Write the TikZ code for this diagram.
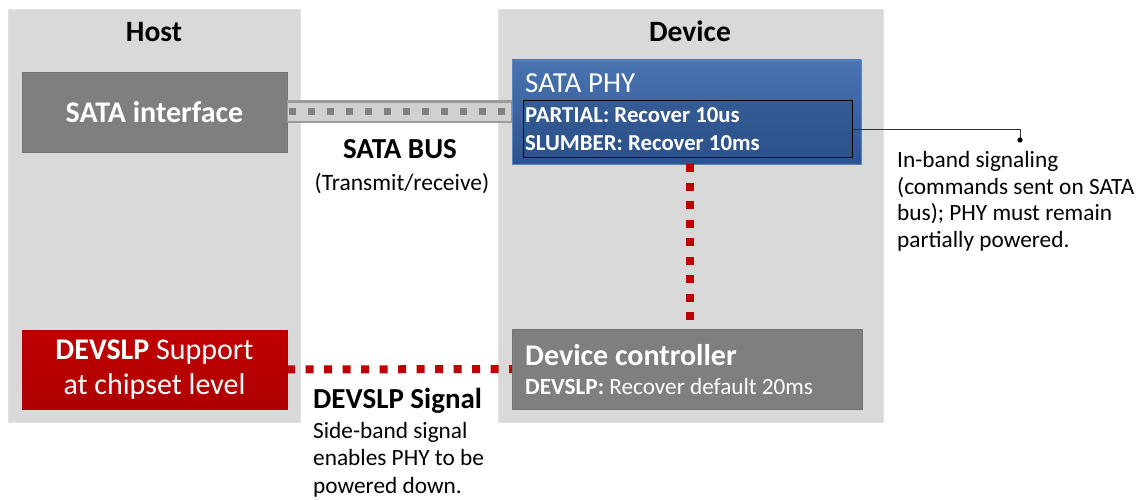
\documentclass[tikz,border=0pt]{standalone}
\usepackage{fontspec}
\setmainfont{Carlito}
\definecolor{panelgray}{HTML}{D9D9D9}
\definecolor{boxgray}{HTML}{7F7F7F}
\definecolor{busfill}{HTML}{D0D0D0}
\definecolor{busedge}{HTML}{9A9A9A}
\definecolor{sqgray}{HTML}{808080}
\definecolor{devred}{HTML}{C00000}
\definecolor{devredb}{HTML}{AE0000}
\definecolor{phytop}{HTML}{4A74B0}
\definecolor{phybot}{HTML}{2C5390}
\definecolor{phyedge}{HTML}{5A84C0}
\definecolor{innerblue}{HTML}{2B4E84}
\definecolor{dotred}{HTML}{C00000}
\tikzset{
  panel/.style={fill=panelgray, draw=panelgray!80!white, inner sep=0pt},
  graybox/.style={fill=boxgray, draw=boxgray!90!black, inner sep=0pt, text=white},
  redbox/.style={top color=devred, bottom color=devredb, draw=devredb, inner sep=0pt, text=white},
  phybox/.style={top color=phytop, bottom color=phybot, draw=phyedge, line width=0.8pt, inner sep=0pt},
  innerbox/.style={fill=innerblue, fill opacity=0.45, draw=black, draw opacity=1, line width=1pt, inner sep=0pt},
  wtext/.style={text=white, inner sep=0pt},
  btext/.style={text=black, inner sep=0pt},
  reddots/.style={draw=dotred, line width=8pt, dash pattern=on 8pt off 10.5pt},
}
\begin{document}
\begin{tikzpicture}[x=1pt,y=-1pt]
\useasboundingbox (0,0) rectangle (1146,500);
\fill[white] (0,0) rectangle (1146,500);
% panels
\node[panel, minimum width=292pt, minimum height=413pt] (host) at (154,215.5) {};
\node[panel, minimum width=385pt, minimum height=413pt] (device) at (690.5,215.5) {};
\node[btext, anchor=base, font=\fontsize{29.5}{32}\selectfont\bfseries] (hosttitle) at (154,42) {Host};
\node[btext, anchor=base, font=\fontsize{29.5}{32}\selectfont\bfseries] (devtitle) at (690,42) {Device};
% boxes
\node[graybox, minimum width=265pt, minimum height=80pt, font=\fontsize{30}{32}\selectfont\bfseries] (sataif) at (154.5,112) {SATA interface};
\node[redbox, minimum width=265pt, minimum height=79pt, align=center, font=\fontsize{30}{35}\selectfont] (devslp) at (154.5,369.5) {\textbf{DEVSLP} Support\\at chipset level};
\node[phybox, minimum width=349pt, minimum height=104pt] (phy) at (686.5,112) {};
\node[innerbox, minimum width=329pt, minimum height=57pt] (inner) at (687.5,129.5) {};
\node[graybox, minimum width=350pt, minimum height=80pt] (ctrl) at (687,369) {};
% bus
\draw[busedge, line width=23pt] (sataif.east) -- (phy.west);
\draw[busfill, line width=18pt] ([xshift=0.5pt]sataif.east) -- ([xshift=-0.5pt]phy.west);
\draw[sqgray, line width=7pt, dash pattern=on 7pt off 12pt] ([xshift=2pt]sataif.east) -- (phy.west);
% redraw PHY on top of bus end
\node[phybox, minimum width=349pt, minimum height=104pt] (phy2) at (686.5,112) {};
\node[innerbox, minimum width=329pt, minimum height=57pt] (inner2) at (687.5,129.5) {};
% PHY texts
\node[wtext, anchor=base west, font=\fontsize{29}{32}\selectfont] (phytitle) at (525,93) {SATA PHY};
\node[wtext, anchor=base west, font=\fontsize{22.8}{26}\selectfont\bfseries] (partial) at (525,123) {PARTIAL: Recover 10us};
\node[wtext, anchor=base west, font=\fontsize{22.8}{26}\selectfont\bfseries] (slumber) at (525,150) {SLUMBER: Recover 10ms};
% controller texts
\node[wtext, anchor=base west, font=\fontsize{30}{32}\selectfont\bfseries] (ctrltitle) at (525,365) {Device controller};
\node[wtext, anchor=base west, font=\fontsize{23.2}{26}\selectfont] (ctrlsub) at (525,394) {\textbf{DEVSLP:} Recover default 20ms};
% red dotted links
\draw[reddots] (phy2.south -| 690,0) -- (ctrl.north -| 690,0);
\draw[reddots] (devslp.east) -- (ctrl.west);
% bus labels
\node[btext, anchor=base, font=\fontsize{29}{32}\selectfont\bfseries] (buslbl) at (400,158) {SATA BUS};
\node[btext, anchor=base, font=\fontsize{23.5}{26}\selectfont] (bussub) at (402,190) {(Transmit/receive)};
% devslp signal labels
\node[btext, anchor=base west, font=\fontsize{29}{32}\selectfont\bfseries] (siglbl) at (313,408) {DEVSLP Signal};
\node[btext, anchor=base west, align=left, font=\fontsize{23.3}{27.5}\selectfont] (sigsub) at (313,493) {Side-band signal\\enables PHY to be\\powered down.};
% in-band annotation
\coordinate (dotc) at (1020,140);
\draw[black!80, line width=0.8pt] (inner2.east) -| (dotc);
\fill[black] (dotc) circle (2.6pt);
\node[btext, anchor=base west, align=left, font=\fontsize{23.3}{26.5}\selectfont] (inband) at (897,247) {In-band signaling\\(commands sent on SATA\\bus); PHY must remain\\partially powered.};
\end{tikzpicture}
\end{document}
